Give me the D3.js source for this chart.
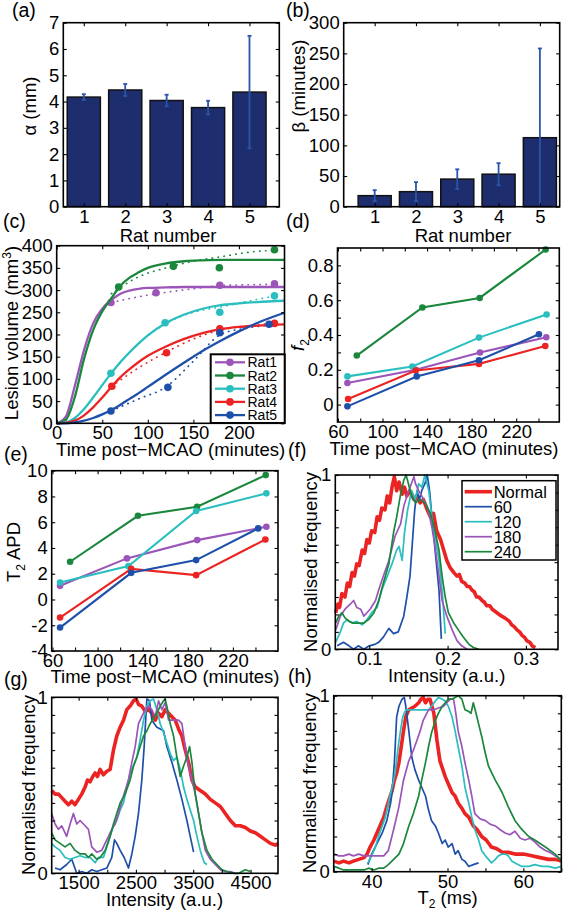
<!DOCTYPE html>
<html><head><meta charset="utf-8">
<script src="https://cdn.jsdelivr.net/npm/d3@7"></script>
<style>body{margin:0;background:#fff}svg{display:block;background:#fff}</style>
</head><body><svg id="c" width="564" height="912"></svg>
<script>
// ---------------- DATA ----------------
const ratIds = [1,2,3,4,5];
const alphaMean = [4.17, 4.44, 4.04, 3.77, 4.36];
const alphaErr  = [0.11, 0.23, 0.22, 0.26, 2.14];
const betaMean  = [18, 24.5, 45, 53, 112.5];
const betaErr   = [9, 15.5, 16, 18, 145.5];
const alphaTicks = [0,1,2,3,4,5,6,7];
const betaTicks  = [0,50,100,150,200,250,300];

const ratNames = ["Rat1","Rat2","Rat3","Rat4","Rat5"];
const lesionT = [[59.5,109,179,239],[68,128,178.5,239],[59.5,119,179,239],[60.5,120.5,179,239],[59.5,122,179,233]];
const lesionV = [[272,294,311,314],[307,353.5,350.5,391],[112.6,226.6,250,287],[83.3,159,213,225],[27.8,81,204,223]];
const fitT = [0,10,20,30,40,50,60,70,80,90,100,120,140,160,180,200,220,250];
const fitV = [
 [0,15,85,165,225,258,278,292,299,303,305,306,307,307,307,307,307,307],
 [0,8,60,145,210,252,282,310,328,340,350,360,365,367,368,368,368,368],
 [0,2,12,32,58,86,113,138,160,180,198,226,245,258,266,270,273,276],
 [0,1,6,18,36,58,82,104,122,138,152,173,190,203,212,217,220,223],
 [0,0,2,6,12,20,30,42,55,68,82,110,137,163,186,207,226,249]];
const dotT = [60,90,120,150,180,210,240];
const dotV = [[272,285,295,303,310,312,313],[292,330,350,365,375,385,390],[113,180,225,250,262,275,287],[83,125,160,190,210,220,225],[28,55,82,140,200,215,222]];
const cTicksX = [0,50,100,150,200];
const cTicksY = [0,50,100,150,200,250,300,350,400];

const f2T = [[68.5,129.8,187.5,247],[76.9,135.8,187.2,246.4],[68.5,126.8,186.6,247.3],[69.1,129.8,186.6,246.1],[68.5,130.7,186.6,240.4]];
const f2V = [[0.124,0.2,0.299,0.387],[0.282,0.558,0.613,0.891],[0.162,0.219,0.385,0.518],[0.032,0.196,0.234,0.337],[-0.01,0.162,0.255,0.404]];
const timeTicks = [60,80,100,120,140,160,180,200,220,240];
const timeLabels = [60,100,140,180,220];
const f2Ticks = [0,0.1,0.2,0.3,0.4,0.5,0.6,0.7,0.8];
const f2Labels = [0,0.2,0.4,0.6,0.8];

const apdT = [[66.7,126,188.3,249.7],[75.6,135.8,188.3,249.1],[66.7,127.4,187.4,249.7],[66.7,129.8,187.4,248.8],[66.7,129.8,187.4,242.4]];
const apdV = [[1.06,3.19,4.61,5.65],[2.93,6.5,7.2,9.66],[1.32,2.59,6.87,8.24],[-1.4,2.38,1.89,4.66],[-2.18,2.07,3.06,5.52]];
const apdTicks = [-4,-2,0,2,4,6,8,10];

const histNames = ["Normal","60","120","180","240"];
const freqTicks = [0,0.1,0.2,0.3,0.4,0.5,0.6,0.7,0.8,0.9,1];
const freqLabels = [0,1];

const fNormal = [[0.057,0.21],[0.060,0.26],[0.062,0.24],[0.065,0.32],[0.069,0.30],[0.072,0.38],[0.075,0.36],[0.078,0.44],[0.081,0.42],[0.084,0.49],[0.087,0.48],[0.091,0.57],[0.094,0.55],[0.097,0.63],[0.100,0.61],[0.103,0.68],[0.107,0.67],[0.110,0.76],[0.113,0.74],[0.116,0.81],[0.120,0.80],[0.123,0.88],[0.126,0.84],[0.129,0.93],[0.132,0.99],[0.135,0.91],[0.138,0.96],[0.142,0.89],[0.145,0.93],[0.148,0.88],[0.152,0.91],[0.157,0.86],[0.161,0.88],[0.165,0.84],[0.169,0.86],[0.174,0.80],[0.178,0.76],[0.182,0.78],[0.186,0.68],[0.191,0.63],[0.195,0.57],[0.199,0.51],[0.203,0.47],[0.208,0.44],[0.212,0.42],[0.215,0.43],[0.218,0.39],[0.222,0.38],[0.225,0.36],[0.228,0.36],[0.231,0.34],[0.234,0.33],[0.237,0.30],[0.240,0.30],[0.244,0.28],[0.247,0.27],[0.250,0.25],[0.254,0.25],[0.257,0.23],[0.260,0.22],[0.263,0.21],[0.266,0.20],[0.269,0.19],[0.273,0.18],[0.276,0.17],[0.279,0.16],[0.282,0.14],[0.285,0.13],[0.289,0.11],[0.292,0.10],[0.295,0.08],[0.298,0.07],[0.301,0.05],[0.305,0.04],[0.308,0.02],[0.312,0.01]];
const f60 = [[0.059,0.02],[0.067,0.04],[0.074,0.02],[0.080,0.0],[0.086,0.02],[0.093,0.0],[0.100,0.02],[0.108,0.03],[0.112,0.04],[0.118,0.07],[0.125,0.12],[0.131,0.09],[0.137,0.10],[0.144,0.19],[0.148,0.30],[0.152,0.42],[0.155,0.61],[0.158,0.80],[0.161,0.91],[0.164,0.86],[0.167,0.91],[0.171,0.95],[0.174,1.0],[0.177,0.91],[0.180,0.76],[0.184,0.57],[0.189,0.34],[0.192,0.06]];
const f120 = [[0.057,0.04],[0.063,0.10],[0.067,0.15],[0.072,0.17],[0.078,0.15],[0.084,0.16],[0.091,0.14],[0.097,0.17],[0.103,0.21],[0.110,0.24],[0.116,0.34],[0.123,0.42],[0.129,0.49],[0.135,0.57],[0.138,0.59],[0.142,0.51],[0.145,0.67],[0.149,0.80],[0.154,0.91],[0.159,0.86],[0.163,0.95],[0.167,0.93],[0.171,1.0],[0.176,0.91],[0.180,0.76],[0.184,0.65],[0.189,0.51],[0.193,0.34],[0.197,0.09]];
const f180 = [[0.057,0.11],[0.063,0.19],[0.069,0.23],[0.076,0.26],[0.080,0.28],[0.084,0.24],[0.089,0.23],[0.093,0.19],[0.097,0.21],[0.101,0.23],[0.108,0.28],[0.112,0.34],[0.118,0.42],[0.125,0.51],[0.133,0.65],[0.140,0.72],[0.144,0.82],[0.148,0.88],[0.152,0.93],[0.157,0.99],[0.159,0.95],[0.163,0.91],[0.167,0.88],[0.174,0.82],[0.180,0.70],[0.184,0.59],[0.189,0.42],[0.193,0.28],[0.199,0.19],[0.206,0.11],[0.212,0.05],[0.218,0.02],[0.225,0.0]];
const f240 = [[0.057,0.15],[0.061,0.19],[0.065,0.21],[0.069,0.18],[0.074,0.16],[0.080,0.15],[0.086,0.15],[0.093,0.15],[0.099,0.17],[0.106,0.21],[0.112,0.28],[0.118,0.38],[0.125,0.49],[0.131,0.67],[0.135,0.76],[0.140,0.89],[0.144,0.97],[0.147,1.0],[0.150,0.95],[0.154,0.88],[0.159,0.84],[0.165,0.86],[0.171,0.84],[0.178,0.78],[0.184,0.68],[0.189,0.57],[0.193,0.42],[0.197,0.30],[0.201,0.21],[0.208,0.15],[0.214,0.11],[0.220,0.07],[0.227,0.03],[0.233,0.01],[0.240,0.0]];
const fTicksX = [0.1,0.2,0.3];

const gNormal = [[1030,0.47],[1088,0.45],[1147,0.45],[1205,0.43],[1263,0.41],[1321,0.39],[1380,0.41],[1438,0.39],[1496,0.42],[1554,0.45],[1613,0.49],[1654,0.53],[1700,0.52],[1747,0.55],[1788,0.57],[1828,0.55],[1875,0.59],[1933,0.56],[1992,0.58],[2050,0.59],[2108,0.70],[2166,0.78],[2225,0.83],[2283,0.87],[2341,0.93],[2399,0.95],[2458,0.98],[2504,0.99],[2545,0.96],[2603,0.95],[2662,0.92],[2720,0.93],[2778,0.91],[2837,0.87],[2895,0.91],[2953,0.89],[3011,0.93],[3070,0.91],[3128,0.89],[3186,0.87],[3244,0.82],[3303,0.78],[3361,0.70],[3419,0.63],[3478,0.53],[3536,0.49],[3623,0.47],[3711,0.45],[3798,0.42],[3885,0.40],[3973,0.38],[4060,0.34],[4148,0.30],[4235,0.27],[4323,0.27],[4410,0.26],[4497,0.24],[4585,0.23],[4672,0.21],[4760,0.19],[4847,0.17],[4934,0.16],[4980,0.17]];
const g60 = [[1088,0.03],[1176,0.02],[1292,0.05],[1380,0.08],[1467,0.0],[1554,0.01],[1642,0.0],[1729,0.02],[1817,0.01],[1904,0.02],[1992,0.03],[2079,0.09],[2126,0.19],[2166,0.17],[2225,0.13],[2295,0.09],[2370,0.03],[2429,0.11],[2487,0.21],[2545,0.34],[2603,0.53],[2644,0.72],[2691,0.99],[2737,0.98],[2778,0.87],[2866,0.83],[2982,0.81],[3040,0.72],[3128,0.63],[3215,0.53],[3303,0.42],[3390,0.30],[3448,0.21],[3507,0.12]];
const g120 = [[1030,0.17],[1088,0.15],[1176,0.13],[1263,0.09],[1351,0.08],[1438,0.09],[1525,0.10],[1613,0.09],[1700,0.09],[1788,0.06],[1846,0.09],[1933,0.09],[1992,0.15],[2050,0.21],[2108,0.27],[2166,0.30],[2225,0.36],[2283,0.40],[2341,0.49],[2399,0.57],[2458,0.61],[2516,0.66],[2574,0.76],[2633,0.87],[2691,0.95],[2749,0.98],[2807,0.99],[2866,0.93],[2924,0.85],[2982,0.80],[3040,0.74],[3099,0.68],[3157,0.64],[3215,0.66],[3274,0.59],[3332,0.49],[3390,0.42],[3448,0.36],[3507,0.30],[3565,0.21],[3623,0.13],[3693,0.06],[3740,0.05]];
const g180 = [[1030,0.34],[1088,0.28],[1147,0.25],[1205,0.27],[1292,0.21],[1351,0.28],[1409,0.34],[1467,0.28],[1525,0.30],[1613,0.27],[1671,0.25],[1729,0.15],[1817,0.12],[1904,0.13],[1962,0.17],[2021,0.21],[2079,0.25],[2137,0.28],[2196,0.34],[2283,0.44],[2370,0.53],[2429,0.63],[2487,0.72],[2545,0.85],[2603,0.89],[2662,0.93],[2720,0.95],[2778,0.93],[2837,0.89],[2895,0.98],[2953,0.93],[3011,0.97],[3070,0.87],[3157,0.87],[3244,0.87],[3303,0.85],[3361,0.72],[3419,0.61],[3478,0.53],[3536,0.45],[3594,0.34],[3652,0.23],[3711,0.13],[3798,0.08],[3885,0.05],[3973,0.02],[4060,0.01],[4148,0.01],[4235,0.0]];
const g240 = [[1030,0.23],[1088,0.19],[1176,0.17],[1263,0.15],[1351,0.17],[1438,0.13],[1525,0.11],[1613,0.11],[1671,0.09],[1729,0.11],[1817,0.08],[1875,0.09],[1962,0.13],[2050,0.21],[2108,0.28],[2166,0.34],[2225,0.40],[2312,0.45],[2399,0.53],[2458,0.61],[2516,0.66],[2574,0.72],[2633,0.78],[2691,0.81],[2749,0.85],[2807,0.88],[2866,0.91],[2924,0.95],[2982,0.98],[3011,0.99],[3040,0.95],[3099,0.85],[3157,0.78],[3215,0.66],[3274,0.55],[3332,0.61],[3390,0.66],[3437,0.72],[3478,0.63],[3536,0.45],[3594,0.34],[3652,0.23],[3740,0.13],[3827,0.08],[3915,0.05],[4002,0.02],[4089,0.01],[4206,0.0],[4293,0.0],[4410,0.02],[4497,0.01]];
const gTicksX = [1500,2000,2500,3000,3500,4000,4500];
const gLabelsX = [1500,2500,3500,4500];

const hNormal = [[35.0,0.06],[35.7,0.05],[36.3,0.06],[37.0,0.05],[37.6,0.06],[38.3,0.07],[39.0,0.08],[39.4,0.10],[39.8,0.14],[40.3,0.18],[40.7,0.22],[41.1,0.26],[41.6,0.31],[42.0,0.37],[42.3,0.41],[42.7,0.46],[43.0,0.52],[43.3,0.56],[43.6,0.62],[43.9,0.71],[44.2,0.80],[44.5,0.88],[44.9,0.92],[45.3,0.93],[45.7,0.94],[46.2,0.96],[46.5,0.98],[46.8,0.99],[47.1,0.96],[47.4,0.98],[47.7,0.98],[48.2,0.90],[48.6,0.75],[49.0,0.63],[49.7,0.54],[50.1,0.50],[50.6,0.45],[51.0,0.43],[51.4,0.39],[51.9,0.36],[52.3,0.33],[52.8,0.31],[53.4,0.26],[53.9,0.24],[54.5,0.20],[55.1,0.18],[55.8,0.14],[56.5,0.13],[57.2,0.11],[58.0,0.11],[58.9,0.10],[60.0,0.10],[61.1,0.09],[62.2,0.08],[63.3,0.07],[64.2,0.07],[65.0,0.06]];
const h60 = [[39.5,0.04],[40.0,0.10],[40.7,0.16],[41.4,0.22],[42.0,0.29],[42.5,0.39],[42.7,0.45],[43.0,0.62],[43.3,0.88],[43.6,0.94],[44.0,0.98],[44.3,0.99],[44.5,0.94],[44.9,0.80],[45.3,0.65],[45.7,0.58],[46.2,0.52],[46.6,0.48],[47.1,0.43],[47.5,0.35],[47.9,0.29],[48.4,0.26],[48.8,0.22],[49.3,0.16],[49.7,0.18],[50.1,0.14],[50.6,0.16],[51.0,0.10],[51.4,0.12],[51.9,0.07],[52.3,0.06],[52.8,0.03],[53.4,0.04],[54.1,0.05]];
const h120 = [[39.5,0.05],[40.0,0.09],[40.5,0.14],[40.9,0.20],[41.4,0.26],[41.8,0.31],[42.2,0.39],[42.7,0.48],[43.1,0.56],[43.5,0.71],[43.8,0.80],[44.1,0.88],[44.5,0.92],[45.1,0.92],[45.7,0.92],[46.6,0.92],[47.5,0.92],[47.9,0.94],[48.4,0.97],[48.8,0.99],[49.3,0.98],[49.7,0.97],[50.1,0.94],[50.6,0.88],[51.0,0.80],[51.4,0.71],[51.9,0.60],[52.3,0.48],[52.8,0.39],[53.2,0.31],[53.6,0.24],[54.1,0.18],[54.5,0.12],[55.0,0.09],[55.4,0.07],[55.8,0.05],[56.3,0.07],[56.7,0.09],[57.2,0.10],[57.6,0.10],[58.0,0.09],[58.5,0.06],[58.9,0.05],[59.8,0.03],[60.7,0.03],[61.5,0.04],[62.4,0.03],[63.3,0.03],[64.2,0.02],[65.0,0.03]];
const h180 = [[35.0,0.10],[35.7,0.09],[36.3,0.09],[37.0,0.10],[37.6,0.09],[38.3,0.10],[39.0,0.09],[39.6,0.09],[40.3,0.09],[40.9,0.09],[41.6,0.09],[42.2,0.12],[42.9,0.24],[43.6,0.37],[44.2,0.52],[44.9,0.63],[45.5,0.69],[46.0,0.75],[46.4,0.80],[46.8,0.86],[47.5,0.92],[48.2,0.92],[48.8,0.93],[49.5,0.94],[49.9,0.96],[50.4,0.98],[50.8,0.98],[51.1,0.90],[51.4,0.80],[51.9,0.71],[52.3,0.62],[52.8,0.52],[53.2,0.43],[53.6,0.33],[54.3,0.30],[55.0,0.29],[55.6,0.27],[56.3,0.26],[56.9,0.24],[57.6,0.22],[58.2,0.21],[58.9,0.23],[59.6,0.19],[60.2,0.18],[60.9,0.19],[61.5,0.17],[62.2,0.14],[62.9,0.12],[63.5,0.11],[64.2,0.09],[65.0,0.07]];
const h240 = [[35.0,0.03],[35.7,0.02],[36.3,0.01],[37.0,0.01],[37.6,0.01],[38.3,0.01],[39.0,0.01],[39.6,0.02],[40.3,0.01],[40.9,0.02],[41.6,0.02],[42.2,0.04],[42.9,0.07],[43.6,0.10],[44.2,0.16],[44.9,0.26],[45.5,0.33],[46.2,0.43],[46.6,0.52],[47.1,0.62],[47.5,0.71],[47.9,0.79],[48.4,0.86],[48.8,0.90],[49.3,0.94],[49.7,0.96],[50.1,0.98],[50.6,0.98],[51.0,0.99],[51.4,1.0],[51.9,0.98],[52.3,0.92],[52.8,0.91],[53.1,0.90],[53.4,0.96],[53.7,0.91],[54.1,0.84],[54.5,0.77],[55.0,0.67],[55.4,0.60],[56.3,0.52],[57.2,0.45],[58.0,0.37],[58.9,0.29],[59.8,0.24],[60.7,0.20],[61.5,0.18],[62.9,0.14],[64.2,0.10],[65.0,0.06]];
const hTicksX = [35,40,45,50,55,60,65];
const hLabelsX = [40,50,60];

// ---------------- STYLE ----------------
const FONT = '"Liberation Sans", Arial, Helvetica, sans-serif';
const FS = 18.5, TL = 3.5;
const cPurple="#9b55b9", cGreen="#1a873c", cCyan="#2abebe", cRed="#eb2323", cBlue="#1e50aa";
const ratColors = [cPurple,cGreen,cCyan,cRed,cBlue];
const histColors = [cRed,cBlue,cCyan,cPurple,cGreen];
const histWidths = [3.6,1.7,1.7,1.7,1.7];
const barFill = "#1e2d6e", errCol = "#2a55a8";

const svg = d3.select("#c");
svg.append("rect").attr("width",564).attr("height",912).attr("fill","#fff");

function frame(x, y, o) {
  const g = svg.append("g");
  const [xa,xb] = x.range(), [yb,ya] = y.range();
  const xl = new Set(o.xl), yl = new Set(o.yl);
  const fx = o.fx || (v=>String(v)), fy = o.fy || (v=>String(v));
  const st = sel => { sel.select(".domain").remove();
    sel.selectAll("line").attr("stroke","#000").attr("stroke-width",1.1);
    sel.selectAll("text").attr("font-size",FS).attr("font-family",FONT).attr("fill","#000"); };
  g.append("g").attr("transform",`translate(0,${yb})`).call(d3.axisBottom(x).tickValues(o.xt).tickSize(-TL).tickPadding(3).tickFormat(v=>xl.has(v)?fx(v):"")).call(st);
  g.append("g").attr("transform",`translate(0,${ya})`).call(d3.axisTop(x).tickValues(o.xt).tickSize(-TL).tickFormat("")).call(st);
  g.append("g").attr("transform",`translate(${xa},0)`).call(d3.axisLeft(y).tickValues(o.yt).tickSize(-TL).tickPadding(4).tickFormat(v=>yl.has(v)?fy(v):"")).call(st);
  g.append("g").attr("transform",`translate(${xb},0)`).call(d3.axisRight(y).tickValues(o.yt).tickSize(-TL).tickFormat("")).call(st);
  g.selectAll("text").filter(function(){ return this.textContent === ""; }).remove();
  g.append("rect").attr("x",xa).attr("y",ya).attr("width",xb-xa).attr("height",yb-ya)
    .attr("fill","none").attr("stroke","#000").attr("stroke-width",1.6);
}
function txt(x, y, s, o={}) {
  const t = svg.append("text").attr("x",x).attr("y",y).attr("font-size",o.fs||FS)
    .attr("font-family",FONT).attr("text-anchor",o.anchor||"middle").attr("fill","#000");
  if (o.rot) t.attr("transform",`rotate(-90,${x},${y})`);
  if (s !== null) t.text(s);
  return t;
}
function panelLabel(x, y, s){ txt(x,y,s,{fs:19.5,anchor:"start"}); }

// ---------------- (a) & (b) bars ----------------
function barPanel(x, y, means, errs) {
  const g = svg.append("g");
  g.selectAll("rect").data(ratIds).join("rect")
    .attr("x", (d)=>x(d-0.4)).attr("width", x(0.8)-x(0))
    .attr("y", (d,i)=>y(means[i])).attr("height", (d,i)=>y(0)-y(means[i]))
    .attr("fill", barFill).attr("stroke","#111").attr("stroke-width",1.5);
  ratIds.forEach((d,i)=>{
    const lo = means[i]-errs[i], hi = means[i]+errs[i];
    g.append("line").attr("x1",x(d)).attr("x2",x(d)).attr("y1",y(Math.max(0,lo))).attr("y2",y(hi))
      .attr("stroke",errCol).attr("stroke-width",1.8);
    g.append("line").attr("x1",x(d)-2).attr("x2",x(d)+2).attr("y1",y(hi)).attr("y2",y(hi)).attr("stroke",errCol).attr("stroke-width",1.8);
    if (lo>0) g.append("line").attr("x1",x(d)-2).attr("x2",x(d)+2).attr("y1",y(lo)).attr("y2",y(lo)).attr("stroke",errCol).attr("stroke-width",1.8);
  });
}
const xa = d3.scaleLinear().domain([0.505,5.72]).range([63.3,279.3]);
const ya = d3.scaleLinear().domain([0,7]).range([206.7,22.7]);
barPanel(xa, ya, alphaMean, alphaErr);
frame(xa, ya, {xt:ratIds, xl:ratIds, yt:alphaTicks, yl:alphaTicks});
txt(36,106,"α (mm)",{rot:true});
txt(168,242,"Rat number");
panelLabel(12,17,"(a)");

const xb = d3.scaleLinear().domain([0.25,5.48]).range([343.7,559.7]);
const yb = d3.scaleLinear().domain([0,300]).range([206.7,22.7]);
barPanel(xb, yb, betaMean, betaErr);
frame(xb, yb, {xt:ratIds, xl:ratIds, yt:betaTicks, yl:betaTicks});
txt(305,86,"β (minutes)",{rot:true});
txt(463,242,"Rat number");
panelLabel(286,17,"(b)");

// ---------------- (c) lesion volume ----------------
const xc = d3.scaleLinear().domain([0,250]).range([56.7,284.5]);
const yc = d3.scaleLinear().domain([0,400]).range([423.3,245.7]);
{
  const g = svg.append("g");
  const lf = d3.line().x(d=>xc(d[0])).y(d=>yc(d[1])).curve(d3.curveMonotoneX);
  ratIds.forEach((r,i)=>{
    g.append("path").attr("d", lf(dotT.map((t,k)=>[t,dotV[i][k]]))).attr("fill","none")
      .attr("stroke",ratColors[i]).attr("stroke-width",1.7).attr("stroke-dasharray","0.4 5.6").attr("stroke-linecap","round");
  });
  ratIds.forEach((r,i)=>{
    g.append("path").attr("d", lf(fitT.map((t,k)=>[t,fitV[i][k]]))).attr("fill","none")
      .attr("stroke",ratColors[i]).attr("stroke-width",2.3);
    g.selectAll(null).data(lesionT[i].map((t,k)=>[t,lesionV[i][k]])).join("circle")
      .attr("cx",d=>xc(d[0])).attr("cy",d=>yc(d[1])).attr("r",3.8).attr("fill",ratColors[i]);
  });
}
frame(xc, yc, {xt:cTicksX, xl:cTicksX, yt:cTicksY, yl:cTicksY});
{ // legend
  const g = svg.append("g");
  g.append("rect").attr("x",210.7).attr("y",354.3).attr("width",74).attr("height",68.7)
    .attr("fill","#fff").attr("stroke","#000").attr("stroke-width",2);
  ratNames.forEach((n,i)=>{
    const cy = 362.3 + i*13.2;
    g.append("line").attr("x1",215).attr("x2",245).attr("y1",cy).attr("y2",cy).attr("stroke",ratColors[i]).attr("stroke-width",2.3);
    g.append("circle").attr("cx",230).attr("cy",cy).attr("r",3.8).attr("fill",ratColors[i]);
    txt(247.5, cy+5, n, {fs:14, anchor:"start"});
  });
}
{
  const t = txt(17.5,333,null,{rot:true});
  t.append("tspan").text("Lesion volume (mm");
  t.append("tspan").attr("font-size",12).attr("dy",-7).text("3");
  t.append("tspan").attr("dy",7).text(")");
}
txt(170.6,456,"Time post−MCAO (minutes)");
panelLabel(3,228,"(c)");

// ---------------- (d) f2 ----------------
function seriesPanel(x, y, T, V) {
  const g = svg.append("g");
  const lf = d3.line().x(d=>x(d[0])).y(d=>y(d[1]));
  ratIds.forEach((r,i)=>{
    const pts = T[i].map((t,k)=>[t,V[i][k]]);
    g.append("path").attr("d",lf(pts)).attr("fill","none").attr("stroke",ratColors[i]).attr("stroke-width",2.1);
    g.selectAll(null).data(pts).join("circle").attr("cx",d=>x(d[0])).attr("cy",d=>y(d[1])).attr("r",3.3).attr("fill",ratColors[i]);
  });
}
const xd = d3.scaleLinear().domain([59.6,258.7]).range([337.5,559.3]);
const yd = d3.scaleLinear().domain([-0.1,0.9]).range([422,248]);
seriesPanel(xd, yd, f2T, f2V);
frame(xd, yd, {xt:timeTicks, xl:timeLabels, yt:f2Ticks, yl:f2Labels});
{
  const t = txt(304,345,null,{rot:true});
  t.append("tspan").attr("font-style","italic").text("f");
  t.append("tspan").attr("font-size",12).attr("dy",5).text("2");
}
txt(444,455,"Time post−MCAO (minutes)");
panelLabel(286,228,"(d)");

// ---------------- (e) T2 APD ----------------
const xe = d3.scaleLinear().domain([59.3,260]).range([51.7,278]);
const ye = d3.scaleLinear().domain([-4,10]).range([651,470.7]);
seriesPanel(xe, ye, apdT, apdV);
frame(xe, ye, {xt:timeTicks, xl:timeLabels, yt:apdTicks, yl:apdTicks});
{
  const t = txt(20,552,null,{rot:true});
  t.append("tspan").text("T");
  t.append("tspan").attr("font-size",12).attr("dy",5).text("2");
  t.append("tspan").attr("dy",-5).text(" APD");
}
txt(165,683,"Time post−MCAO (minutes)");
panelLabel(4,461,"(e)");

// ---------------- histograms ----------------
function histPanel(x, y, series) {
  const g = svg.append("g");
  const lf = d3.line().x(d=>x(d[0])).y(d=>y(d[1]));
  series.forEach((s,i)=>{
    g.append("path").attr("d",lf(s)).attr("fill","none").attr("stroke",histColors[i])
      .attr("stroke-width",histWidths[i]).attr("stroke-linejoin","round");
  });
}
const xf = d3.scaleLinear().domain([0.0566,0.341]).range([335.3,558]);
const yf = d3.scaleLinear().domain([0,1]).range([649.3,475]);
histPanel(xf, yf, [fNormal,f60,f120,f180,f240]);
frame(xf, yf, {xt:fTicksX, xl:fTicksX, yt:freqTicks, yl:freqLabels});
{ // legend
  const g = svg.append("g");
  g.append("rect").attr("x",462).attr("y",480.7).attr("width",94).attr("height",79.3)
    .attr("fill","#fff").attr("stroke","#000").attr("stroke-width",1.5);
  histNames.forEach((n,i)=>{
    const cy = 491.7 + i*15;
    g.append("line").attr("x1",464.7).attr("x2",492).attr("y1",cy).attr("y2",cy).attr("stroke",histColors[i]).attr("stroke-width",histWidths[i]);
    txt(493.7, cy+5.8, n, {fs:16.5, anchor:"start"});
  });
}
txt(317,562,"Normalised frequency",{rot:true});
txt(446.7,682,"Intensity (a.u.)");
panelLabel(288,457,"(f)");

const xg = d3.scaleLinear().domain([1030,4980]).range([51.7,278]);
const yg = d3.scaleLinear().domain([0,1]).range([873.3,697.3]);
histPanel(xg, yg, [gNormal,g60,g120,g180,g240]);
frame(xg, yg, {xt:gTicksX, xl:gLabelsX, yt:freqTicks, yl:freqLabels});
txt(35,785,"Normalised frequency",{rot:true});
txt(164.5,906,"Intensity (a.u.)");
panelLabel(4,686,"(g)");

const xh = d3.scaleLinear().domain([35,65]).range([333.7,561.3]);
const yh = d3.scaleLinear().domain([0,1]).range([871.7,695.7]);
histPanel(xh, yh, [hNormal,h60,h120,h180,h240]);
frame(xh, yh, {xt:hTicksX, xl:hLabelsX, yt:freqTicks, yl:freqLabels});
txt(316,783,"Normalised frequency",{rot:true});
{
  const t = txt(447.5,904,null);
  t.append("tspan").text("T");
  t.append("tspan").attr("font-size",12).attr("dy",4).text("2");
  t.append("tspan").attr("dy",-4).text(" (ms)");
}
panelLabel(288,683,"(h)");
</script>
</body></html>
